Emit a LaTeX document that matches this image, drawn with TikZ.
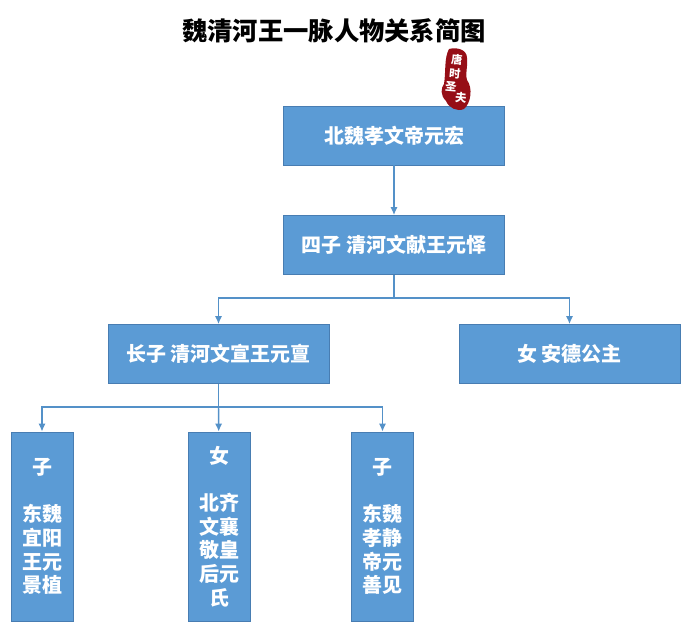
\documentclass[tikz,border=0pt]{standalone}
\usepackage{fontspec}
\setmainfont{Noto Sans CJK SC}
\usetikzlibrary{arrows.meta}
\definecolor{boxblue}{RGB}{91,155,213}
\definecolor{boxline}{RGB}{72,125,178}
\definecolor{linkblue}{RGB}{84,145,200}
\definecolor{sealred}{RGB}{150,14,22}
\tikzset{
  box/.style={draw=boxline,fill=boxblue,text=white,font=\fontsize{15pt}{18pt}\selectfont\bfseries,minimum width=166pt,minimum height=44.5pt,inner sep=0pt},
  tallbox/.style={draw=boxline,fill=boxblue,text=white,font=\fontsize{15pt}{17.8pt}\selectfont\bfseries,minimum width=46.5pt,minimum height=142pt,inner sep=0pt,align=center},
  link/.style={draw=linkblue,line width=1.1pt},
  arrowlink/.style={link,-{Latex[length=6pt,width=5.5pt]}},
  sealtext/.style={text=white,font=\fontsize{8.5pt}{9pt}\selectfont\bfseries,inner sep=0pt}
}
\begin{document}
\begin{tikzpicture}[x=0.75pt,y=-0.75pt]
\useasboundingbox (0,0) rectangle (690,639);
\node[text=black,font=\fontsize{19pt}{22pt}\selectfont\bfseries] (title) at (334,31) {魏清河王一脉人物关系简图};
\node[box] (hong) at (394,135.5) {北魏孝文帝元宏};
\node[box] (yi) at (394,245) {四子 清河文献王元怿};
\node[box] (xuan) at (218.5,354) {长子 清河文宣王元亶};
\node[box] (ande) at (569.5,354) {女 安德公主};
\node[tallbox] (shan) at (42,526.5) {子\\ \\东魏\\宜阳\\王元\\景植};
\node[tallbox] (shi) at (219.5,526.5) {女\\ \\北齐\\文襄\\敬皇\\后元\\氏};
\node[tallbox] (xian) at (382.5,526.5) {子\\ \\东魏\\孝静\\帝元\\善见};
% seal sits on the top edge of the first box
\fill[sealred] (449,49) .. controls (456,47) and (467,49) .. (467,58) .. controls (468,68) and (465,72) .. (467,80) .. controls (473,88) and (471,103) .. (464,109) .. controls (457,112) and (449,108) .. (446,101) .. controls (440,95) and (441,88) .. (444,84) .. controls (446,72) and (444,58) .. (449,49) -- cycle;
\node[sealtext,rotate=-5] (seal1) at (457,60) {唐};
\node[sealtext,rotate=-5] (seal2) at (455,74) {时};
\node[sealtext,rotate=-5] (seal3) at (451,87) {圣};
\node[sealtext,rotate=-5] (seal4) at (461,98) {夫};
% connectors
\coordinate (fork1) at (394,298);
\coordinate (fork2) at (218.5,407);
\draw[arrowlink] (hong) -- (yi);
\draw[link] (yi) -- (fork1);
\draw[arrowlink] (fork1) -| (xuan);
\draw[arrowlink] (fork1) -| (ande);
\draw[link] (xuan) -- (fork2);
\draw[arrowlink] (fork2) -| (shan);
\draw[arrowlink] (fork2) -| (xian);
\draw[arrowlink] (fork2) -- (shi);
\end{tikzpicture}
\end{document}
